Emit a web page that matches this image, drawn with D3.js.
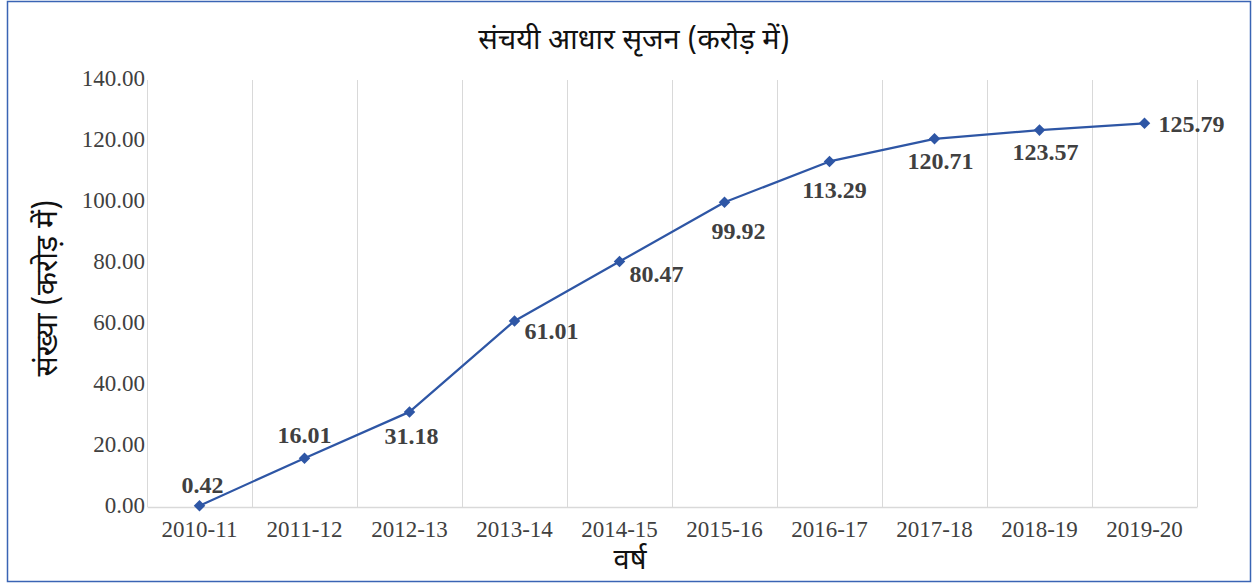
<!DOCTYPE html>
<html>
<head>
<meta charset="utf-8">
<script src="https://cdn.jsdelivr.net/npm/d3@7"></script>
<style>
  body { margin: 0; background: #fff; }
  svg { display: block; }
</style>
</head>
<body>
<div id="chart"></div>
<script>
var years = ["2010-11", "2011-12", "2012-13", "2013-14", "2014-15",
             "2015-16", "2016-17", "2017-18", "2018-19", "2019-20"];
var values = [0.42, 16.01, 31.18, 61.01, 80.47, 99.92, 113.29, 120.71, 123.57, 125.79];
var yTicks = [0, 20, 40, 60, 80, 100, 120, 140];
var chartTitle = "संचयी आधार सृजन (करोड़ में)";
var xTitle = "वर्ष";
var yTitle = "संख्या (करोड़ में)";

// where each data label sits relative to its point (dx, dy of label centre)
var labelOffsets = [[3, -21], [0, -23], [2, 24], [37, 10], [37, 12],
                    [14, 29], [5, 28], [6, 22], [6, 22], [47, 0]];

var width = 1255,
    height = 585,
    margin = {top: 80, right: 58, bottom: 78, left: 147},
    innerW = width - margin.left - margin.right,
    innerH = height - margin.top - margin.bottom;

var serif = "'Liberation Serif', 'Times New Roman', serif";
var hindi = "'Noto Sans Devanagari', 'Noto Sans', 'Lohit Devanagari', 'FreeSans', sans-serif";

var svg = d3.select("#chart").append("svg")
    .attr("width", width)
    .attr("height", height);

// outer frame
svg.append("rect")
    .attr("x", 7.5).attr("y", 1.5)
    .attr("width", 1243).attr("height", 580)
    .attr("fill", "#fff")
    .attr("stroke", "#3a64b4")
    .attr("stroke-width", 1.5);

var xScale = d3.scaleBand().domain(years).range([0, innerW]);
var yScale = d3.scaleLinear().domain([0, 140]).range([innerH, 0]);

var g = svg.append("g")
    .attr("transform", "translate(" + margin.left + "," + margin.top + ")");

// vertical gridlines at category boundaries
var bounds = years.map(function(d) { return xScale(d); }).concat([innerW]);
g.selectAll(".vgrid").data(bounds).enter().append("line")
    .attr("class", "vgrid")
    .attr("x1", function(d) { return d + 0.5; })
    .attr("x2", function(d) { return d + 0.5; })
    .attr("y1", 0).attr("y2", innerH)
    .attr("stroke", "#d9d9d9")
    .attr("stroke-width", 1);

// x axis
var xAxis = d3.axisBottom(xScale).tickSize(0).tickPadding(14);
var xg = g.append("g")
    .attr("transform", "translate(0," + innerH + ")")
    .call(xAxis);
xg.select(".domain").attr("stroke", "#d9d9d9").attr("stroke-width", 1.5);
xg.selectAll("text")
    .attr("font-family", serif)
    .attr("font-size", 23)
    .attr("fill", "#404040");

// y axis
var yAxis = d3.axisLeft(yScale).tickValues(yTicks).tickSize(0).tickPadding(2)
    .tickFormat(d3.format(".2f"));
var yg = g.append("g").call(yAxis);
yg.select(".domain").remove();
yg.selectAll("text")
    .attr("dy", "0.22em")
    .attr("font-family", serif)
    .attr("font-size", 23)
    .attr("fill", "#404040");

// series line
var cx = function(d, i) { return xScale(years[i]) + xScale.bandwidth() / 2; };
var line = d3.line()
    .x(function(d, i) { return cx(d, i); })
    .y(function(d) { return yScale(d); });

g.append("path")
    .datum(values)
    .attr("d", line)
    .attr("fill", "none")
    .attr("stroke", "#2e56a5")
    .attr("stroke-width", 2.25)
    .attr("stroke-linejoin", "round");

g.selectAll(".marker").data(values).enter().append("path")
    .attr("class", "marker")
    .attr("d", d3.symbol().type(d3.symbolDiamond2).size(85))
    .attr("transform", function(d, i) {
        return "translate(" + cx(d, i) + "," + yScale(d) + ")";
    })
    .attr("fill", "#2e56a5");

// data labels
g.selectAll(".dlabel").data(values).enter().append("text")
    .attr("class", "dlabel")
    .attr("x", function(d, i) { return cx(d, i) + labelOffsets[i][0]; })
    .attr("y", function(d, i) { return yScale(d) + labelOffsets[i][1]; })
    .attr("dy", "0.34em")
    .attr("text-anchor", "middle")
    .attr("font-family", serif)
    .attr("font-weight", "bold")
    .attr("font-size", 24)
    .attr("fill", "#404040")
    .text(function(d) { return d.toFixed(2); });

// titles
svg.append("text")
    .attr("x", 634).attr("y", 49)
    .attr("text-anchor", "middle")
    .attr("font-family", hindi)
    .attr("font-size", 29)
    .attr("fill", "#111")
    .text(chartTitle);

svg.append("text")
    .attr("x", 630).attr("y", 569)
    .attr("text-anchor", "middle")
    .attr("font-family", hindi)
    .attr("font-size", 29)
    .attr("fill", "#111")
    .text(xTitle);

svg.append("text")
    .attr("transform", "translate(57,288) rotate(-90)")
    .attr("text-anchor", "middle")
    .attr("font-family", hindi)
    .attr("font-size", 30)
    .attr("fill", "#111")
    .text(yTitle);
</script>
</body>
</html>
